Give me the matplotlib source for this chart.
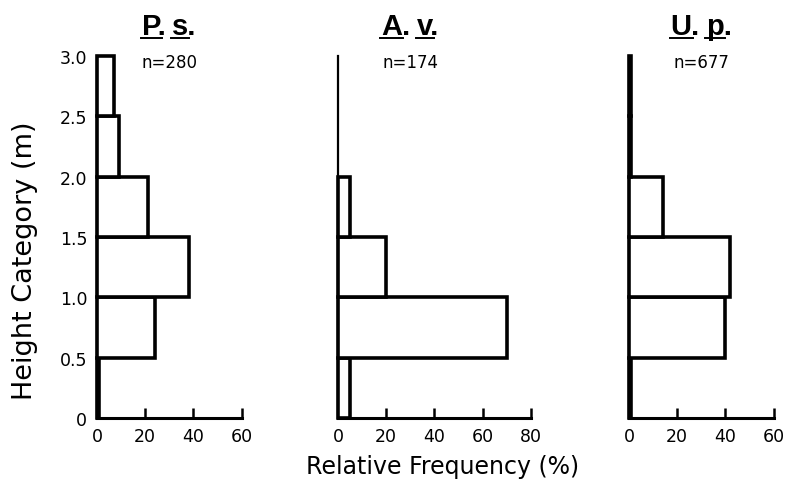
import matplotlib
matplotlib.use("Agg")
import matplotlib.pyplot as plt
from matplotlib.lines import Line2D

# ---- data ----
height_bins = [0.0, 0.5, 1.0, 1.5, 2.0, 2.5]
bin_width = 0.5
ps_freq = [1, 24, 38, 21, 9, 7]
av_freq = [5, 70, 20, 5, 0, 0]
up_freq = [1, 40, 42, 14, 1, 1]
species_first = ["P.", "A.", "U."]
species_second = ["s.", "v.", "p."]
sample_sizes = ["n=280", "n=174", "n=677"]
x_max = [60, 80, 60]
x_ticks = [[0, 20, 40, 60], [0, 20, 40, 60, 80], [0, 20, 40, 60]]
y_ticks = [0, 0.5, 1.0, 1.5, 2.0, 2.5, 3.0]
y_tick_labels = ["0", "0.5", "1.0", "1.5", "2.0", "2.5", "3.0"]
x_label = "Relative Frequency (%)"
y_label = "Height Category (m)"

freqs = [ps_freq, av_freq, up_freq]

plt.rcParams["font.family"] = ["DejaVu Sans"]
W, H = 788, 485
fig = plt.figure(figsize=(W / 100, H / 100), dpi=100)

panel_left_px = [97, 338, 629]
px_per_unit = 2.41
y0_px, y1_px = 419, 57

axes = []
for i in range(3):
    wpx = x_max[i] * px_per_unit
    ax = fig.add_axes([panel_left_px[i] / W, (H - y0_px) / H, wpx / W, (y0_px - y1_px) / H])
    axes.append(ax)
    vals = freqs[i]
    ys = [b for b, v in zip(height_bins, vals) if v > 0]
    vs = [v for v in vals if v > 0]
    bars = ax.barh(ys, vs, height=bin_width, align="edge", color="white",
                   edgecolor="black", linewidth=2.6, zorder=3)
    for b in bars:
        b.set_clip_on(False)
    ax.set_xlim(0, x_max[i])
    ax.set_ylim(0, 3.0)
    ax.set_xticks(x_ticks[i])
    ax.set_xticklabels([str(t) for t in x_ticks[i]], fontsize=12.5)
    ax.tick_params(axis="x", direction="in", length=7.5, width=1.8, pad=6.5)
    ax.set_yticks(y_ticks)
    if i == 0:
        ax.set_yticklabels(y_tick_labels, fontsize=12.5)
    else:
        ax.set_yticklabels([])
    ax.tick_params(axis="y", length=0, pad=7)
    for s in ["top", "right"]:
        ax.spines[s].set_visible(False)
    ax.spines["left"].set_linewidth(1.6)
    ax.spines["bottom"].set_linewidth(2.2)
    ax.patch.set_alpha(0)
    ax.text(30, 2.95, sample_sizes[i], ha="center", va="center", fontsize=12)

fig.text(25 / W, (H - 261) / H, y_label, rotation=90, ha="center", va="center", fontsize=19.5)
fig.text(443 / W, (H - 467) / H, x_label, ha="center", va="center", fontsize=17)

# ---- titles with underlined letters ----
fig.canvas.draw()
renderer = fig.canvas.get_renderer()
tprops = dict(fontsize=21, fontweight="bold", family=["Liberation Sans", "DejaVu Sans"])


def measure(s):
    t = fig.text(0, 0, s, **tprops)
    w = t.get_window_extent(renderer).width
    t.remove()
    return w

baseline_px = H - 35
gap = 6
for i, ax in enumerate(axes):
    cx = ax.transData.transform((30, 0))[0]
    a, b = species_first[i], species_second[i]
    wa, wb = measure(a), measure(b)
    la, lb = measure(a[0]), measure(b[0])
    start = cx - (wa + gap + wb) / 2
    fig.text(start / W, baseline_px / H, a, ha="left", va="baseline", **tprops)
    sb = start + wa + gap
    fig.text(sb / W, baseline_px / H, b, ha="left", va="baseline", **tprops)
    uy = baseline_px - 4
    for x0, wl in [(start, la), (sb, lb)]:
        fig.add_artist(Line2D([(x0 - 1) / W, (x0 + wl + 1) / W], [uy / H, uy / H],
                              transform=fig.transFigure, color="black", lw=1.4))

fig.savefig("out.png", dpi=100)
